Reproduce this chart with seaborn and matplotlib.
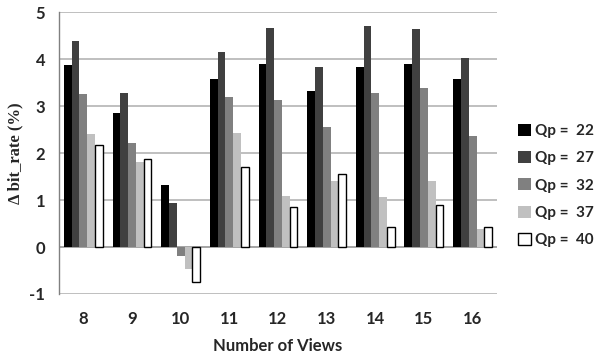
import matplotlib
matplotlib.use("Agg")
import matplotlib.pyplot as plt
import seaborn as sns
import pandas as pd

views = ["8", "9", "10", "11", "12", "13", "14", "15", "16"]
qp_labels = ["Qp =  22", "Qp =  27", "Qp =  32", "Qp =  37", "Qp =  40"]
qp22 = [3.88, 2.85, 1.32, 3.57, 3.90, 3.32, 3.84, 3.90, 3.57]
qp27 = [4.39, 3.28, 0.93, 4.16, 4.67, 3.84, 4.70, 4.64, 4.02]
qp32 = [3.26, 2.21, -0.19, 3.20, 3.12, 2.56, 3.27, 3.38, 2.36]
qp37 = [2.40, 1.80, -0.46, 2.42, 1.08, 1.41, 1.06, 1.41, 0.38]
qp40 = [2.18, 1.88, -0.74, 1.70, 0.86, 1.55, 0.42, 0.90, 0.43]

colors = ["#000000", "#404040", "#808080", "#c0c0c0", "#ffffff"]

series = [qp22, qp27, qp32, qp37, qp40]
rows = []
for lab, vals in zip(qp_labels, series):
    for v, val in zip(views, vals):
        rows.append({"views": v, "qp": lab, "rate": val})
df = pd.DataFrame(rows)

sns.set_style("white")
plt.rcParams["font.family"] = ["Lato", "DejaVu Sans"]
plt.rcParams["axes.unicode_minus"] = False

fig = plt.figure(figsize=(5.98, 3.54), dpi=100)
ax = fig.add_axes([0.0987, 0.1695, 0.7323, 0.7965])

sns.barplot(data=df, x="views", y="rate", hue="qp", order=views,
            hue_order=qp_labels, palette=colors, width=0.8,
            ax=ax, zorder=3, linewidth=0, legend=True)

# white series gets a black outline
for bar_container, col in zip(ax.containers, colors):
    for p in bar_container:
        if col == "#ffffff":
            p.set_edgecolor("black")
            p.set_linewidth(1.0)
        else:
            p.set_edgecolor(col)
            p.set_linewidth(0)

ax.set_ylim(-1, 5)
ax.set_yticks(range(-1, 6))
ax.set_xlim(-0.5, len(views) - 0.5)
ax.yaxis.grid(True, color="#bfbfbf", linewidth=1.4, zorder=0)
ax.axhline(0, color="#a6a6a6", linewidth=1.4, zorder=2)
for s in ["top", "right", "bottom"]:
    ax.spines[s].set_visible(False)
ax.spines["left"].set_color("#808080")
ax.spines["left"].set_linewidth(1.0)
ax.spines["left"].set_zorder(5)

ax.tick_params(axis="y", length=4, color="#bfbfbf", width=1.2, pad=6,
               labelsize=12)
ax.tick_params(axis="x", length=0, pad=12, labelsize=12)
for t in ax.get_xticklabels() + ax.get_yticklabels():
    t.set_fontweight("bold")

ax.set_xlabel("Number of Views", fontsize=12, fontweight="bold", labelpad=8)
ax.set_ylabel("Δ bit_rate (%)", fontsize=12, fontweight="bold",
              family=["Liberation Serif", "DejaVu Serif"], labelpad=4)

leg = ax.legend(loc="center left", bbox_to_anchor=(1.035, 0.385),
                frameon=False, handlelength=0.85, handleheight=0.85,
                handletextpad=0.25, labelspacing=0.85, borderaxespad=0,
                prop={"weight": "bold", "size": 11})
for h, col in zip(leg.legend_handles, colors):
    h.set_edgecolor("black" if col == "#ffffff" else col)
    h.set_linewidth(1.0 if col == "#ffffff" else 0)

fig.savefig("out.png", dpi=100)
